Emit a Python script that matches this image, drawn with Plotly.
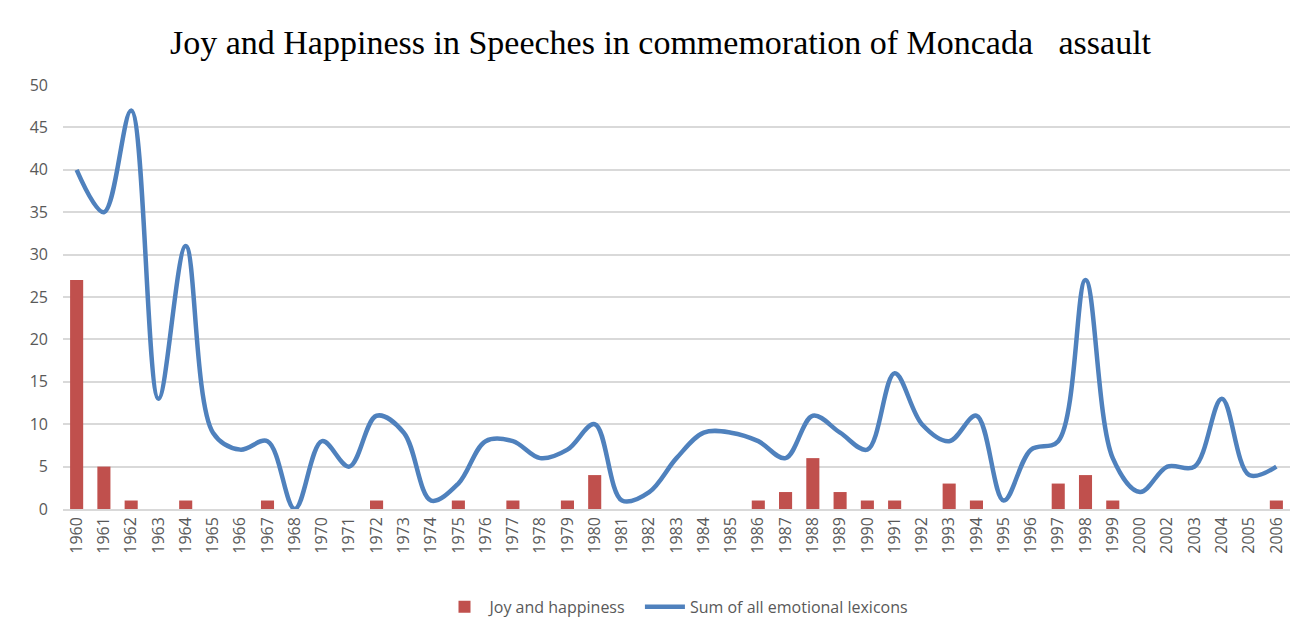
import plotly.graph_objects as go

years = ["1960", "1961", "1962", "1963", "1964", "1965", "1966", "1967", "1968", "1970",
         "1971", "1972", "1973", "1974", "1975", "1976", "1977", "1978", "1979", "1980",
         "1981", "1982", "1983", "1984", "1985", "1986", "1987", "1988", "1989", "1990",
         "1991", "1992", "1993", "1994", "1995", "1996", "1997", "1998", "1999", "2000",
         "2002", "2003", "2004", "2005", "2006"]

joy = [27, 5, 1, 0, 1, 0, 0, 1, 0, 0,
       0, 1, 0, 0, 1, 0, 1, 0, 1, 4,
       0, 0, 0, 0, 0, 1, 2, 6, 2, 1,
       1, 0, 3, 1, 0, 0, 3, 4, 1, 0,
       0, 0, 0, 0, 1]

total = [40, 35, 47, 13, 31, 9, 7, 8, 0, 8,
         5, 11, 9, 1, 3, 8, 8, 6, 7, 10,
         1, 2, 6, 9, 9, 8, 6, 11, 9, 7,
         16, 10, 8, 11, 1, 7, 8, 27, 6, 2,
         5, 5, 13, 4, 5]

fig = go.Figure()
fig.add_trace(go.Bar(x=years, y=joy, name="Joy and happiness\u00a0\u00a0",
                     marker=dict(color="#C0504D", line=dict(width=0))))
fig.add_trace(go.Scatter(x=years, y=total, name="Sum of all emotional lexicons",
                         mode="lines", line=dict(color="#4F81BD", width=4.5, shape="spline", smoothing=1.0)))

fig.update_layout(
    width=1305, height=629,
    margin=dict(l=55, r=23, t=77, b=128),
    paper_bgcolor="white", plot_bgcolor="white",
    title=dict(text="Joy and Happiness in Speeches in commemoration of Moncada\u00a0\u00a0\u00a0assault",
               x=0.5, xanchor="center", y=0.946, yanchor="middle",
               font=dict(family="Liberation Serif", size=34, color="#000000")),
    bargap=0.52,
    font=dict(family="Open Sans", color="#595959"),
    legend=dict(orientation="h", x=0.5, xanchor="center", y=-0.231, yanchor="middle",
                font=dict(size=16, color="#595959"), itemwidth=40),
    showlegend=True,
)
fig.update_xaxes(type="category", tickangle=-90, showgrid=False, showline=True,
                 linecolor="#D9D9D9", linewidth=1.5, ticks="",
                 tickfont=dict(size=16, color="#595959"))
fig.update_yaxes(range=[0, 50], dtick=5, showgrid=True, gridcolor="#D9D9D9", gridwidth=1.5,
                 zeroline=False, showline=False, ticks="", ticklabelstandoff=14,
                 tickfont=dict(size=16, color="#595959"))

fig.write_html("out.html")
